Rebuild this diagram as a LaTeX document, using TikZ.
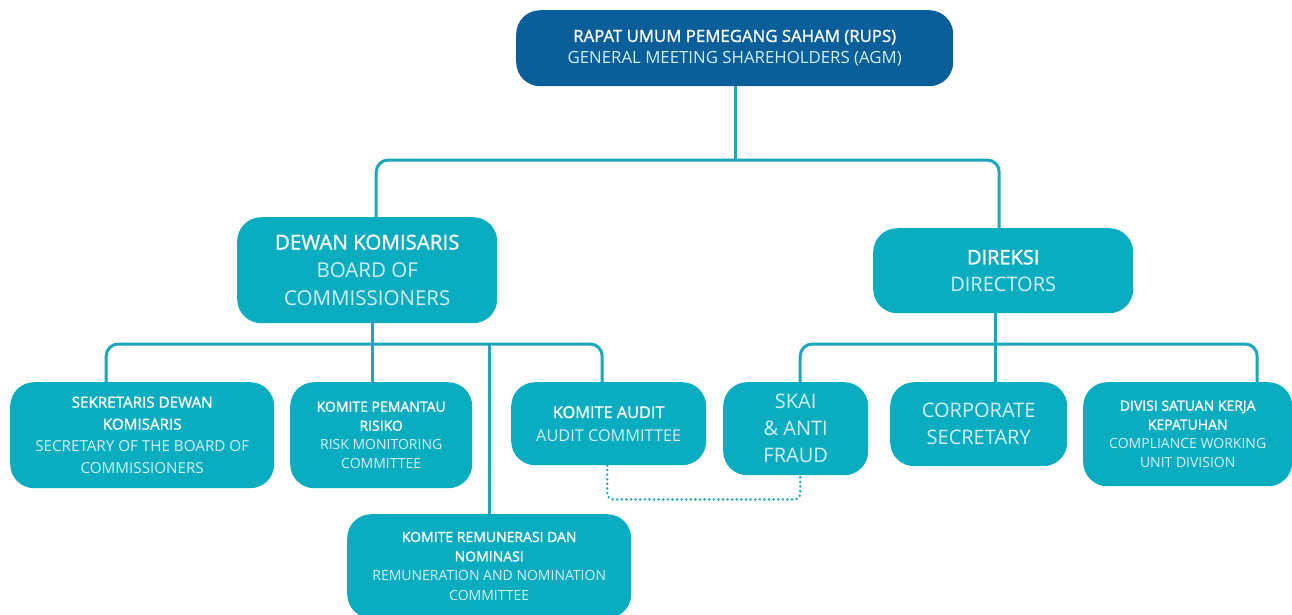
\documentclass[tikz,border=0pt]{standalone}
\usepackage{fontspec}
\setmainfont{Open Sans}
\newfontfamily\semib{Open Sans}[FakeBold=1.2]
\usetikzlibrary{calc}
\definecolor{dblue}{HTML}{0A5E9A}
\definecolor{teal1}{HTML}{0AADBF}
\definecolor{lnc}{HTML}{1DA8BA}
\definecolor{lt}{HTML}{D2EFF3}
\newcommand\setfs[2]{\fontsize{#1}{#2}\selectfont}
\newcommand\sub[1]{{\color{lt}#1}}
\newcommand\hd[1]{{\semib #1}}
\begin{document}
\begin{tikzpicture}[x=1pt,y=-1pt,
  box/.style={fill=teal1, rounded corners=24, text=white, align=center, inner sep=0pt, anchor=north west},
  conn/.style={draw=lnc, line width=3pt, rounded corners=12},
  dots/.style={draw=lnc, line width=2.8pt, dash pattern=on 0pt off 4.6pt, line cap=round, rounded corners=6}]
\useasboundingbox (0,0) rectangle (1292,614);
% nodes
\node[box, fill=dblue, minimum width=437, minimum height=76, font=\setfs{16.8}{22}] (rups) at (516,10)
  {\hd{RAPAT UMUM PEMEGANG SAHAM (RUPS)}\\\sub{GENERAL MEETING SHAREHOLDERS (AGM)}};
\node[box, minimum width=260, minimum height=106, font=\setfs{20.5}{28}] (dewan) at (237,217)
  {\hd{DEWAN KOMISARIS}\\\sub{BOARD OF}\\\sub{COMMISSIONERS}};
\node[box, minimum width=260, minimum height=85, font=\setfs{20}{27}] (direksi) at (873,228)
  {\hd{DIREKSI}\\\sub{DIRECTORS}};
\node[box, minimum width=264, minimum height=106, font=\setfs{15.2}{22}] (sek) at (10,382)
  {\hd{SEKRETARIS DEWAN}\\\hd{KOMISARIS}\\\sub{SECRETARY OF THE BOARD OF}\\\sub{COMMISSIONERS}};
\node[box, minimum width=182, minimum height=106, font=\setfs{14}{19}] (kpr) at (290,382)
  {\hd{KOMITE PEMANTAU}\\\hd{RISIKO}\\\sub{RISK MONITORING}\\\sub{COMMITTEE}};
\node[box, minimum width=195, minimum height=83, font=\setfs{16.3}{23}] (ka) at (511,382)
  {\hd{KOMITE AUDIT}\\\sub{AUDIT COMMITTEE}};
\node[box, minimum width=284, minimum height=104, font=\setfs{14}{19.5}] (krn) at (347,514)
  {\hd{KOMITE REMUNERASI DAN}\\\hd{NOMINASI}\\\sub{REMUNERATION AND NOMINATION}\\\sub{COMMITTEE}};
\node[box, minimum width=145, minimum height=93, font=\setfs{20}{27}] (skai) at (723,382)
  {\sub{SKAI}\\\sub{\& ANTI}\\\sub{FRAUD}};
\node[box, minimum width=177, minimum height=84, font=\setfs{20}{27}] (cs) at (890,382)
  {\sub{CORPORATE}\\\sub{SECRETARY}};
\node[box, minimum width=209, minimum height=104, font=\setfs{14}{19}] (dsk) at (1083,382)
  {\hd{DIVISI SATUAN KERJA}\\\hd{KEPATUHAN}\\\sub{COMPLIANCE WORKING}\\\sub{UNIT DIVISION}};
% junction coordinates
\coordinate (j1) at (735,160);
\coordinate (j2) at (372,344);
\coordinate (j3) at (995,344);
% connectors
\draw[conn] (rups.south -| j1) -- (j1);
\draw[conn] ($(dewan.north)+(9,0)$) |- (j1) -| ($(direksi.north)+(-4,0)$);
\draw[conn] (dewan.south -| j2) -- (j2);
\draw[conn] ($(sek.north)+(-36,0)$) |- (j2) -| ($(ka.north)+(-6.5,0)$);
\draw[conn] (kpr.north -| j2) -- (j2);
\draw[conn] (j2 -| krn.north) -- (krn.north);
\draw[conn] (direksi.south -| j3) -- (j3);
\draw[conn] ($(skai.north)+(4.5,0)$) |- (j3) -| ($(dsk.north)+(69.5,0)$);
\draw[conn] (cs.north -| j3) -- (j3);
\draw[dots] ($(ka.south)+(-1.5,0)$) -- ++(0,34) -| ($(skai.south)+(4.5,0)$);
\end{tikzpicture}
\end{document}
